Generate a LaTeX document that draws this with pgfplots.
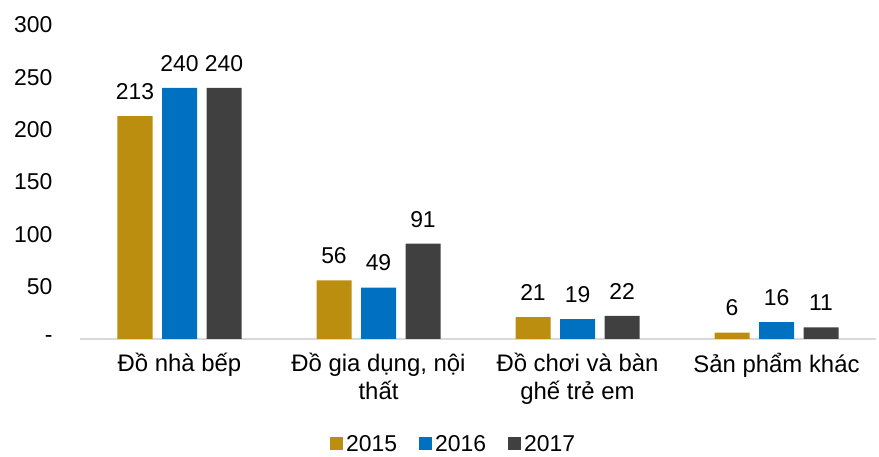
\documentclass[border=0pt]{standalone}
\usepackage{fontspec}
\setmainfont{Liberation Sans}
\usepackage{pgfplots}
\pgfplotsset{compat=1.18}
\definecolor{cA}{HTML}{BC8E0F}
\definecolor{cB}{HTML}{0070C0}
\definecolor{cC}{HTML}{404040}
\begin{document}
\begin{tikzpicture}
\begin{axis}[
  name=ax,
  scale only axis,
  width=796bp, height=314bp,
  xmin=-0.5, xmax=3.5, ymin=0, ymax=300,
  ybar=9.5bp, bar width=35bp,
  axis y line=none,
  axis x line*=bottom,
  x axis line style={draw=black!15, line width=1.2bp, -},
  xtick={0,1,2,3},
  xticklabels={{Đồ nhà bếp},{Đồ gia dụng, nội\\thất},{Đồ chơi và bàn\\ghế trẻ em},{Sản phẩm khác}},
  xticklabel style={align=center, font=\fontsize{24}{28}\selectfont, yshift=-11bp},
  major tick length=0pt,
  /pgf/number format/assume math mode=true,
  nodes near coords,
  every node near coord/.append style={font=\fontsize{23}{26}\selectfont, text=black, yshift=13bp},
  legend columns=3,
  legend style={draw=none, at={(0.47,-0.334)}, anchor=center, font=\fontsize{23}{26}\selectfont,
    nodes={inner xsep=3.5bp},
    /tikz/every even column/.append style={column sep=18bp}},
  legend image code/.code={\fill[#1] (0bp,-6.5bp) rectangle (13bp,6.5bp);},
  clip=false,
]
\addplot[fill=cA, draw=none] coordinates {(0,213) (1,56) (2,21) (3,6)};
\addplot[fill=cB, draw=none] coordinates {(0,240) (1,49) (2,19) (3,16)};
\addplot[fill=cC, draw=none] coordinates {(0,240) (1,91) (2,22) (3,11)};
\legend{2015,2016,2017}
\end{axis}
\begin{axis}[
  scale only axis,
  width=796bp, height=314bp,
  xmin=-0.5, xmax=3.5, ymin=0, ymax=300,
  axis x line=none,
  axis y line*=left,
  y axis line style={draw=none},
  ytick={0,50,100,150,200,250,300},
  yticklabels={-,50,100,150,200,250,300},
  yticklabel style={font=\fontsize{23}{26}\selectfont, xshift=-24bp},
  major tick length=0pt,
]
\end{axis}
\useasboundingbox ([xshift=-80bp,yshift=-117bp]ax.south west) rectangle ([xshift=3bp,yshift=25bp]ax.north east);
\end{tikzpicture}
\end{document}
